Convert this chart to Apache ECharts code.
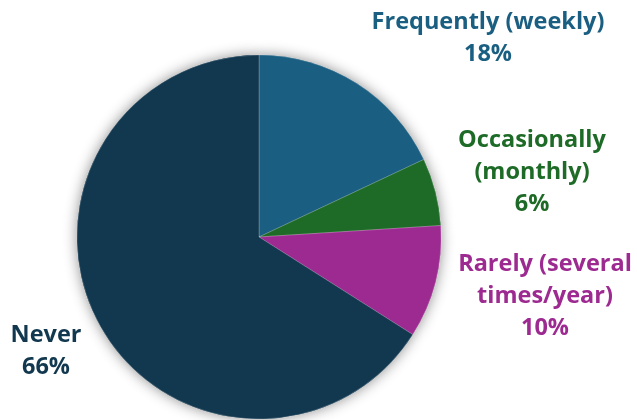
<!DOCTYPE html>
<html>
<head>
<meta charset="utf-8">
<script src="https://cdn.jsdelivr.net/npm/echarts@6/dist/echarts.min.js"></script>
<style>
  html, body { margin: 0; padding: 0; background: #ffffff; }
  #chart { width: 637px; height: 420px; }
</style>
</head>
<body>
<div id="chart"></div>
<script>
// Survey responses: how often respondents do it
const categories = ['Frequently (weekly)', 'Occasionally\n(monthly)', 'Rarely (several\ntimes/year)', 'Never'];
const shares = [18, 6, 10, 66];
const colors = ['#1a5f82', '#1e6b27', '#9d2a90', '#12384f'];

// Label anchor points (centre of each text block) in pixels
const labelAnchors = [[488, 38], [532, 172], [545, 296], [46, 351]];

const chart = echarts.init(document.getElementById('chart'), null, { renderer: 'canvas' });

const pieData = categories.map((name, i) => ({
  name: name,
  value: shares[i],
  itemStyle: { color: colors[i] },
  label: { color: colors[i] }
}));

chart.setOption({
  animation: false,
  series: [
    {
      // soft drop shadow behind the whole pie
      type: 'pie',
      silent: true,
      z: 1,
      center: [259, 237],
      radius: 182,
      startAngle: 90,
      clockwise: true,
      label: { show: false },
      labelLine: { show: false },
      itemStyle: { shadowBlur: 14, shadowColor: 'rgba(0,0,0,0.45)', shadowOffsetX: 0, shadowOffsetY: 0 },
      data: pieData.map(d => ({ name: d.name, value: d.value, itemStyle: { color: d.itemStyle.color } }))
    },
    {
      type: 'pie',
      z: 2,
      center: [259, 237],
      radius: 182,
      startAngle: 90,
      clockwise: true,
      itemStyle: { borderColor: 'rgba(255,255,255,0.35)', borderWidth: 0.6 },
      label: {
        show: true,
        position: 'outside',
        formatter: p => p.name + '\n' + p.value + '%',
        fontFamily: 'Open Sans',
        fontWeight: 'bold',
        fontSize: 23.5,
        lineHeight: 32,
        align: 'center',
        overflow: 'none'
      },
      labelLine: { show: false },
      labelLayout: function (params) {
        const a = labelAnchors[params.dataIndex];
        return { x: a[0], y: a[1], align: 'center', verticalAlign: 'middle' };
      },
      data: pieData
    }
  ]
});
</script>
</body>
</html>
